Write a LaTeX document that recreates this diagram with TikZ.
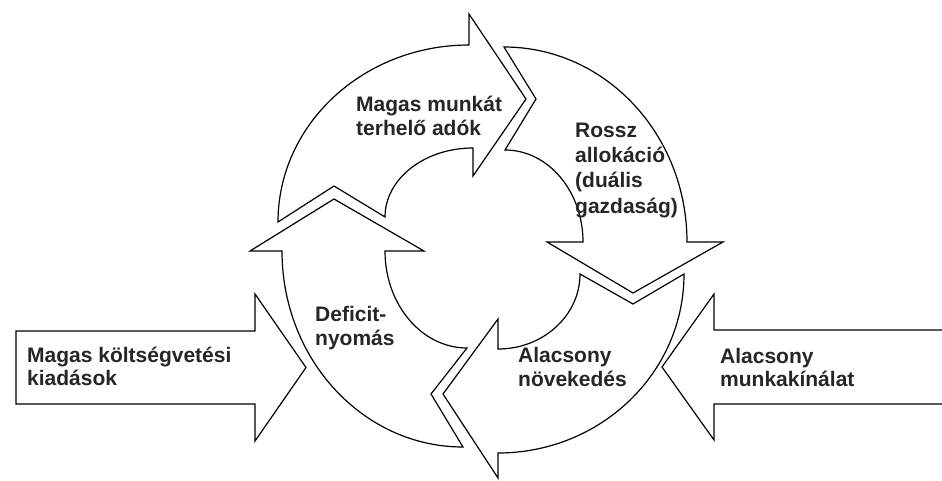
\documentclass[tikz,border=0pt]{standalone}
\usepackage{fontspec}
\setmainfont{Liberation Sans}
\begin{document}
\begin{tikzpicture}[x=1pt,y=1pt,
  shp/.style={draw=black, line width=1.2pt, fill=white, line join=miter},
  lbl/.style={anchor=north west, inner sep=0pt, align=left, text=black!85,
    font=\fontsize{21}{24.5}\selectfont\bfseries}]
\useasboundingbox (0,0) rectangle (942,480);

% Arrow 1: Magas munkat terhelo adok (left -> top)
\draw[shp] (278,258) -- (334,294) -- (385,263)
  arc[start angle=180,end angle=90,x radius=88,y radius=69]
  -- (473,304) -- (526,381) -- (469,466) -- (469,435)
  arc[start angle=90,end angle=180,x radius=191,y radius=177] -- cycle;

% Arrow 2: Rossz allokacio (top -> right)
\draw[shp] (504,433) -- (536,381) -- (505,330)
  arc[start angle=90,end angle=0,x radius=78,y radius=92]
  -- (547,238) -- (633,187) -- (723,238) -- (687,238)
  arc[start angle=0,end angle=90,x radius=183,y radius=195] -- cycle;

% Arrow 3: Alacsony novekedes (right -> bottom)
\draw[shp] (684,206) -- (633,176) -- (580,206)
  arc[start angle=0,end angle=-90,x radius=82,y radius=75]
  -- (498,161) -- (443,86) -- (498,2) -- (498,27)
  arc[start angle=-90,end angle=0,x radius=186,y radius=179] -- cycle;

% Arrow 4: Deficit-nyomas (bottom -> left)
\draw[shp] (463,33) -- (431,86) -- (467,132)
  arc[start angle=-90,end angle=-180,x radius=82,y radius=97]
  -- (424,229) -- (334,281) -- (250,229) -- (282,229)
  arc[start angle=180,end angle=270,x radius=181,y radius=196] -- cycle;

% Left straight arrow
\draw[shp] (16,149) -- (255,149) -- (255,186) -- (306,112.5) -- (255,39)
  -- (255,76) -- (16,76) -- cycle;

% Right straight arrow (open to the right edge)
\draw[shp] (960,150) -- (714,150) -- (714,186) -- (662,113) -- (714,40)
  -- (714,76) -- (960,76);

\node[lbl] (t1) at (356,386) {\rule{0pt}{17pt}Magas munkát\\terhelő adók};
\node[lbl, font=\fontsize{21}{25.3}\selectfont\bfseries] (t2) at (575,360)
  {\rule{0pt}{17pt}Rossz\\allokáció\\(duális\\gazdaság)};
\node[lbl] (t3) at (518,135) {\rule{0pt}{17pt}Alacsony\\növekedés};
\node[lbl] (t4) at (315,176) {\rule{0pt}{17pt}Deficit-\\nyomás};
\node[lbl, font=\fontsize{21}{23.5}\selectfont\bfseries] (t5) at (27,135)
  {\rule{0pt}{17pt}Magas költségvetési\\kiadások};
\node[lbl, font=\fontsize{21}{23.5}\selectfont\bfseries] (t6) at (720,134)
  {\rule{0pt}{17pt}Alacsony\\munkakínálat};
\end{tikzpicture}
\end{document}
